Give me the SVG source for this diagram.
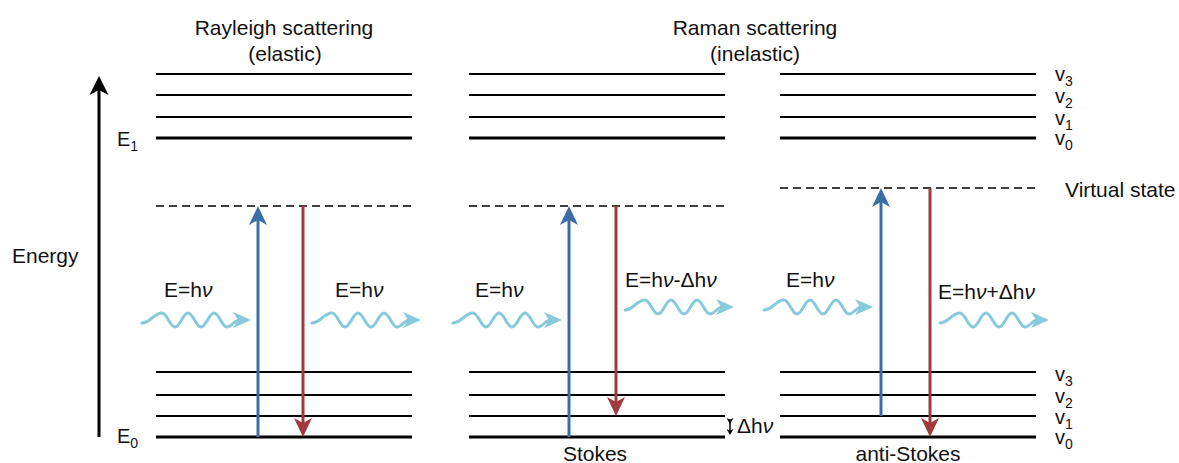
<svg xmlns="http://www.w3.org/2000/svg" xmlns:xlink="http://www.w3.org/1999/xlink" width="1179" height="463" viewBox="0 0 1179 463">
  <style>
    text { font-family: "Liberation Sans", Arial, sans-serif; fill: #111; }
    .t { font-size: 21px; }
    .lbl { font-size: 20px; }
    .sub { font-size: 14px; }
    .lvl { stroke: #000; stroke-width: 2; fill: none; }
    .lvl0 { stroke: #000; stroke-width: 3; fill: none; }
    .virt { stroke: #000; stroke-width: 1.6; stroke-dasharray: 8 5; fill: none; }
    .up { stroke: #3c6ea6; stroke-width: 3; fill: none; }
    .down { stroke: #a13a3c; stroke-width: 3; fill: none; }
    .wave { stroke: #86cadb; stroke-width: 3; fill: none; stroke-linecap: round; }
    .nu { font-style: italic; }
  </style>
  <defs>
    <marker id="headBlue" markerUnits="userSpaceOnUse" viewBox="-10 -10 22 20" markerWidth="22" markerHeight="20" refX="0" refY="0" orient="auto" overflow="visible">
      <path d="M11,0 L-8,-9 L-3,0 L-8,9 Z" fill="#3c6ea6"/>
    </marker>
    <marker id="headRed" markerUnits="userSpaceOnUse" viewBox="-10 -10 22 20" markerWidth="22" markerHeight="20" refX="0" refY="0" orient="auto" overflow="visible">
      <path d="M11,0 L-8,-9 L-3,0 L-8,9 Z" fill="#a13a3c"/>
    </marker>
    <marker id="headBlack" markerUnits="userSpaceOnUse" viewBox="-10 -10 22 20" markerWidth="22" markerHeight="20" refX="0" refY="0" orient="auto" overflow="visible">
      <path d="M12,0 L-7,-9.5 L-2,0 L-7,9.5 Z" fill="#000"/>
    </marker>
    <marker id="headSmall" markerUnits="userSpaceOnUse" viewBox="-5 -5 10 10" markerWidth="10" markerHeight="10" refX="0" refY="0" orient="auto" overflow="visible">
      <path d="M3,0 L-3,-3.5 L-1.5,0 L-3,3.5 Z" fill="#000"/>
    </marker>
    <!-- photon: three wave periods ending in an arrowhead, drawn from local (0,0) -->
    <g id="photon">
      <path class="wave" d="M0,3 C8,3 12,-7 20,-7 C25.2,-7 27.8,7 33,7 C38.2,7 40.8,-7 46,-7 C51.2,-7 53.8,7 59,7 C64.2,7 66.8,-7 72,-7 C77.2,-7 79.8,7 85,7 C90,7 92,0 98,0"/>
      <path d="M109,0 L91,-8 L96,0 L91,8 Z" fill="#86cadb"/>
    </g>
  </defs>

  <!-- titles -->
  <g id="title-rayleigh">
    <text class="t" x="284" y="35" text-anchor="middle">Rayleigh scattering</text>
    <text class="t" x="285" y="61" text-anchor="middle">(elastic)</text>
  </g>
  <g id="title-raman">
    <text class="t" x="755" y="35" text-anchor="middle">Raman scattering</text>
    <text class="t" x="755" y="61" text-anchor="middle">(inelastic)</text>
  </g>

  <!-- energy axis -->
  <g id="energy-axis">
    <line x1="99" y1="437" x2="99" y2="88" stroke="#000" stroke-width="3" marker-end="url(#headBlack)"/>
    <text class="t" x="12" y="263">Energy</text>
    <text class="lbl" x="117" y="146">E<tspan class="sub" dy="5">1</tspan></text>
    <text class="lbl" x="117" y="443">E<tspan class="sub" dy="5">0</tspan></text>
  </g>

  <!-- Rayleigh column levels -->
  <g id="levels-rayleigh">
    <line class="lvl" x1="156" y1="74" x2="412" y2="74"/>
    <line class="lvl" x1="156" y1="95" x2="412" y2="95"/>
    <line class="lvl" x1="156" y1="117" x2="412" y2="117"/>
    <line class="lvl0" x1="156" y1="138" x2="412" y2="138"/>
    <line class="virt" x1="156" y1="206" x2="412" y2="206"/>
    <line class="lvl" x1="156" y1="372" x2="412" y2="372"/>
    <line class="lvl" x1="156" y1="395" x2="412" y2="395"/>
    <line class="lvl" x1="156" y1="416" x2="412" y2="416"/>
    <line class="lvl0" x1="156" y1="437" x2="412" y2="437"/>
  </g>

  <!-- Stokes column levels -->
  <g id="levels-stokes">
    <line class="lvl" x1="469" y1="74" x2="725" y2="74"/>
    <line class="lvl" x1="469" y1="95" x2="725" y2="95"/>
    <line class="lvl" x1="469" y1="117" x2="725" y2="117"/>
    <line class="lvl0" x1="469" y1="138" x2="725" y2="138"/>
    <line class="virt" x1="469" y1="206" x2="725" y2="206"/>
    <line class="lvl" x1="469" y1="372" x2="725" y2="372"/>
    <line class="lvl" x1="469" y1="395" x2="725" y2="395"/>
    <line class="lvl" x1="469" y1="416" x2="725" y2="416"/>
    <line class="lvl0" x1="469" y1="437" x2="725" y2="437"/>
    <text class="t" x="595" y="461" text-anchor="middle">Stokes</text>
  </g>

  <!-- anti-Stokes column levels -->
  <g id="levels-antistokes">
    <line class="lvl" x1="780" y1="74" x2="1036" y2="74"/>
    <line class="lvl" x1="780" y1="95" x2="1036" y2="95"/>
    <line class="lvl" x1="780" y1="117" x2="1036" y2="117"/>
    <line class="lvl0" x1="780" y1="138" x2="1036" y2="138"/>
    <line class="virt" x1="780" y1="188" x2="1036" y2="188"/>
    <line class="lvl" x1="780" y1="372" x2="1036" y2="372"/>
    <line class="lvl" x1="780" y1="395" x2="1036" y2="395"/>
    <line class="lvl" x1="780" y1="416" x2="1036" y2="416"/>
    <line class="lvl0" x1="780" y1="437" x2="1036" y2="437"/>
    <text class="t" x="908" y="461" text-anchor="middle">anti-Stokes</text>
  </g>

  <!-- vibrational level labels -->
  <g id="level-labels">
    <text class="lbl" x="1055" y="81">v<tspan class="sub" dy="5">3</tspan></text>
    <text class="lbl" x="1055" y="103">v<tspan class="sub" dy="5">2</tspan></text>
    <text class="lbl" x="1055" y="125">v<tspan class="sub" dy="5">1</tspan></text>
    <text class="lbl" x="1055" y="145">v<tspan class="sub" dy="5">0</tspan></text>
    <text class="t" x="1065" y="197">Virtual state</text>
    <text class="lbl" x="1055" y="381">v<tspan class="sub" dy="5">3</tspan></text>
    <text class="lbl" x="1055" y="403">v<tspan class="sub" dy="5">2</tspan></text>
    <text class="lbl" x="1055" y="424">v<tspan class="sub" dy="5">1</tspan></text>
    <text class="lbl" x="1055" y="444">v<tspan class="sub" dy="5">0</tspan></text>
  </g>

  <!-- transitions and photons -->
  <g id="connectors">
    <line class="up" x1="258" y1="437" x2="258" y2="217" marker-end="url(#headBlue)"/>
    <line class="down" x1="303" y1="206" x2="303" y2="426" marker-end="url(#headRed)"/>
    <line class="up" x1="569" y1="437" x2="569" y2="217" marker-end="url(#headBlue)"/>
    <line class="down" x1="616" y1="206" x2="616" y2="405" marker-end="url(#headRed)"/>
    <line class="up" x1="881" y1="416" x2="881" y2="199" marker-end="url(#headBlue)"/>
    <line class="down" x1="930" y1="188" x2="930" y2="426" marker-end="url(#headRed)"/>

    <use xlink:href="#photon" x="142" y="320"/>
    <use xlink:href="#photon" x="312" y="320"/>
    <use xlink:href="#photon" x="453" y="320"/>
    <use xlink:href="#photon" x="625" y="307"/>
    <use xlink:href="#photon" x="764" y="307"/>
    <use xlink:href="#photon" x="940" y="320"/>

    <line x1="730" y1="421" x2="730" y2="432" stroke="#000" stroke-width="1.5" marker-start="url(#headSmall)" marker-end="url(#headSmall)"/>
  </g>

  <!-- photon energy labels -->
  <g id="photon-labels">
    <text class="t" x="164" y="297">E=h<tspan class="nu">ν</tspan></text>
    <text class="t" x="335" y="297">E=h<tspan class="nu">ν</tspan></text>
    <text class="t" x="475" y="297">E=h<tspan class="nu">ν</tspan></text>
    <text class="t" x="625" y="287">E=h<tspan class="nu">ν</tspan>-Δh<tspan class="nu">ν</tspan></text>
    <text class="t" x="786" y="287">E=h<tspan class="nu">ν</tspan></text>
    <text class="t" x="938" y="299">E=h<tspan class="nu">ν</tspan>+Δh<tspan class="nu">ν</tspan></text>
    <text class="t" x="737" y="433">Δh<tspan class="nu">ν</tspan></text>
  </g>
</svg>
